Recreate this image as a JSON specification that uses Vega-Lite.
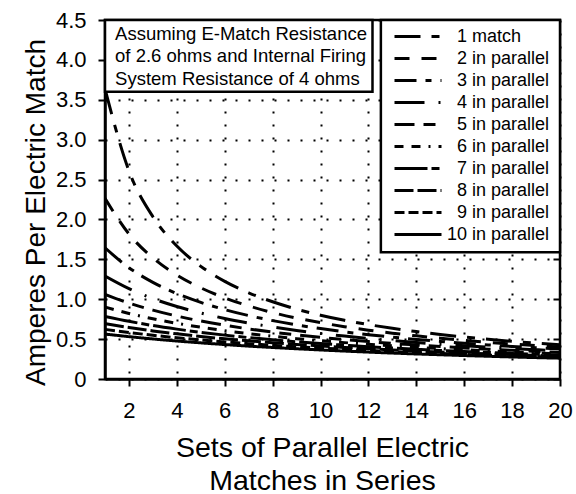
{
  "$schema": "https://vega.github.io/schema/vega-lite/v6.json",
  "autosize": {"type": "none"},
  "width": 455,
  "height": 359,
  "padding": {"left": 105, "top": 20, "right": 16, "bottom": 115},
  "background": "white",
  "config": {
    "font": "Liberation Sans",
    "view": {"stroke": "black", "strokeWidth": 2.5},
    "axis": {
      "labelColor": "black", "titleColor": "black", "domainColor": "black", "tickColor": "black",
      "titleFontWeight": "normal", "labelFont": "Liberation Sans", "titleFont": "Liberation Sans"
    }
  },
  "datasets": {
    "curves": [
      {"s":1,"n":"1 match","a":3.636},{"s":2,"n":"1 match","a":2.609},{"s":3,"n":"1 match","a":2.034},{"s":4,"n":"1 match","a":1.667},{"s":5,"n":"1 match","a":1.412},{"s":6,"n":"1 match","a":1.224},{"s":7,"n":"1 match","a":1.081},{"s":8,"n":"1 match","a":0.968},{"s":9,"n":"1 match","a":0.876},{"s":10,"n":"1 match","a":0.8},{"s":11,"n":"1 match","a":0.736},{"s":12,"n":"1 match","a":0.682},{"s":13,"n":"1 match","a":0.635},{"s":14,"n":"1 match","a":0.594},{"s":15,"n":"1 match","a":0.558},{"s":16,"n":"1 match","a":0.526},{"s":17,"n":"1 match","a":0.498},{"s":18,"n":"1 match","a":0.472},{"s":19,"n":"1 match","a":0.449},{"s":20,"n":"1 match","a":0.429},
      {"s":1,"n":"2 in parallel","a":2.264},{"s":2,"n":"2 in parallel","a":1.818},{"s":3,"n":"2 in parallel","a":1.519},{"s":4,"n":"2 in parallel","a":1.304},{"s":5,"n":"2 in parallel","a":1.143},{"s":6,"n":"2 in parallel","a":1.017},{"s":7,"n":"2 in parallel","a":0.916},{"s":8,"n":"2 in parallel","a":0.833},{"s":9,"n":"2 in parallel","a":0.764},{"s":10,"n":"2 in parallel","a":0.706},{"s":11,"n":"2 in parallel","a":0.656},{"s":12,"n":"2 in parallel","a":0.612},{"s":13,"n":"2 in parallel","a":0.574},{"s":14,"n":"2 in parallel","a":0.541},{"s":15,"n":"2 in parallel","a":0.511},{"s":16,"n":"2 in parallel","a":0.484},{"s":17,"n":"2 in parallel","a":0.46},{"s":18,"n":"2 in parallel","a":0.438},{"s":19,"n":"2 in parallel","a":0.418},{"s":20,"n":"2 in parallel","a":0.4},
      {"s":1,"n":"3 in parallel","a":1.644},{"s":2,"n":"3 in parallel","a":1.395},{"s":3,"n":"3 in parallel","a":1.212},{"s":4,"n":"3 in parallel","a":1.071},{"s":5,"n":"3 in parallel","a":0.96},{"s":6,"n":"3 in parallel","a":0.87},{"s":7,"n":"3 in parallel","a":0.795},{"s":8,"n":"3 in parallel","a":0.732},{"s":9,"n":"3 in parallel","a":0.678},{"s":10,"n":"3 in parallel","a":0.632},{"s":11,"n":"3 in parallel","a":0.591},{"s":12,"n":"3 in parallel","a":0.556},{"s":13,"n":"3 in parallel","a":0.524},{"s":14,"n":"3 in parallel","a":0.496},{"s":15,"n":"3 in parallel","a":0.471},{"s":16,"n":"3 in parallel","a":0.448},{"s":17,"n":"3 in parallel","a":0.427},{"s":18,"n":"3 in parallel","a":0.408},{"s":19,"n":"3 in parallel","a":0.391},{"s":20,"n":"3 in parallel","a":0.375},
      {"s":1,"n":"4 in parallel","a":1.29},{"s":2,"n":"4 in parallel","a":1.132},{"s":3,"n":"4 in parallel","a":1.008},{"s":4,"n":"4 in parallel","a":0.909},{"s":5,"n":"4 in parallel","a":0.828},{"s":6,"n":"4 in parallel","a":0.759},{"s":7,"n":"4 in parallel","a":0.702},{"s":8,"n":"4 in parallel","a":0.652},{"s":9,"n":"4 in parallel","a":0.609},{"s":10,"n":"4 in parallel","a":0.571},{"s":11,"n":"4 in parallel","a":0.538},{"s":12,"n":"4 in parallel","a":0.508},{"s":13,"n":"4 in parallel","a":0.482},{"s":14,"n":"4 in parallel","a":0.458},{"s":15,"n":"4 in parallel","a":0.436},{"s":16,"n":"4 in parallel","a":0.417},{"s":17,"n":"4 in parallel","a":0.399},{"s":18,"n":"4 in parallel","a":0.382},{"s":19,"n":"4 in parallel","a":0.367},{"s":20,"n":"4 in parallel","a":0.353},
      {"s":1,"n":"5 in parallel","a":1.062},{"s":2,"n":"5 in parallel","a":0.952},{"s":3,"n":"5 in parallel","a":0.863},{"s":4,"n":"5 in parallel","a":0.789},{"s":5,"n":"5 in parallel","a":0.727},{"s":6,"n":"5 in parallel","a":0.674},{"s":7,"n":"5 in parallel","a":0.628},{"s":8,"n":"5 in parallel","a":0.588},{"s":9,"n":"5 in parallel","a":0.553},{"s":10,"n":"5 in parallel","a":0.522},{"s":11,"n":"5 in parallel","a":0.494},{"s":12,"n":"5 in parallel","a":0.469},{"s":13,"n":"5 in parallel","a":0.446},{"s":14,"n":"5 in parallel","a":0.426},{"s":15,"n":"5 in parallel","a":0.407},{"s":16,"n":"5 in parallel","a":0.39},{"s":17,"n":"5 in parallel","a":0.374},{"s":18,"n":"5 in parallel","a":0.359},{"s":19,"n":"5 in parallel","a":0.346},{"s":20,"n":"5 in parallel","a":0.333},
      {"s":1,"n":"6 in parallel","a":0.902},{"s":2,"n":"6 in parallel","a":0.822},{"s":3,"n":"6 in parallel","a":0.755},{"s":4,"n":"6 in parallel","a":0.698},{"s":5,"n":"6 in parallel","a":0.649},{"s":6,"n":"6 in parallel","a":0.606},{"s":7,"n":"6 in parallel","a":0.569},{"s":8,"n":"6 in parallel","a":0.536},{"s":9,"n":"6 in parallel","a":0.506},{"s":10,"n":"6 in parallel","a":0.48},{"s":11,"n":"6 in parallel","a":0.456},{"s":12,"n":"6 in parallel","a":0.435},{"s":13,"n":"6 in parallel","a":0.415},{"s":14,"n":"6 in parallel","a":0.397},{"s":15,"n":"6 in parallel","a":0.381},{"s":16,"n":"6 in parallel","a":0.366},{"s":17,"n":"6 in parallel","a":0.352},{"s":18,"n":"6 in parallel","a":0.339},{"s":19,"n":"6 in parallel","a":0.327},{"s":20,"n":"6 in parallel","a":0.316},
      {"s":1,"n":"7 in parallel","a":0.784},{"s":2,"n":"7 in parallel","a":0.723},{"s":3,"n":"7 in parallel","a":0.67},{"s":4,"n":"7 in parallel","a":0.625},{"s":5,"n":"7 in parallel","a":0.585},{"s":6,"n":"7 in parallel","a":0.55},{"s":7,"n":"7 in parallel","a":0.519},{"s":8,"n":"7 in parallel","a":0.492},{"s":9,"n":"7 in parallel","a":0.467},{"s":10,"n":"7 in parallel","a":0.444},{"s":11,"n":"7 in parallel","a":0.424},{"s":12,"n":"7 in parallel","a":0.405},{"s":13,"n":"7 in parallel","a":0.388},{"s":14,"n":"7 in parallel","a":0.373},{"s":15,"n":"7 in parallel","a":0.358},{"s":16,"n":"7 in parallel","a":0.345},{"s":17,"n":"7 in parallel","a":0.332},{"s":18,"n":"7 in parallel","a":0.321},{"s":19,"n":"7 in parallel","a":0.31},{"s":20,"n":"7 in parallel","a":0.3},
      {"s":1,"n":"8 in parallel","a":0.694},{"s":2,"n":"8 in parallel","a":0.645},{"s":3,"n":"8 in parallel","a":0.603},{"s":4,"n":"8 in parallel","a":0.566},{"s":5,"n":"8 in parallel","a":0.533},{"s":6,"n":"8 in parallel","a":0.504},{"s":7,"n":"8 in parallel","a":0.478},{"s":8,"n":"8 in parallel","a":0.455},{"s":9,"n":"8 in parallel","a":0.433},{"s":10,"n":"8 in parallel","a":0.414},{"s":11,"n":"8 in parallel","a":0.396},{"s":12,"n":"8 in parallel","a":0.38},{"s":13,"n":"8 in parallel","a":0.365},{"s":14,"n":"8 in parallel","a":0.351},{"s":15,"n":"8 in parallel","a":0.338},{"s":16,"n":"8 in parallel","a":0.326},{"s":17,"n":"8 in parallel","a":0.315},{"s":18,"n":"8 in parallel","a":0.305},{"s":19,"n":"8 in parallel","a":0.295},{"s":20,"n":"8 in parallel","a":0.286},
      {"s":1,"n":"9 in parallel","a":0.622},{"s":2,"n":"9 in parallel","a":0.583},{"s":3,"n":"9 in parallel","a":0.548},{"s":4,"n":"9 in parallel","a":0.517},{"s":5,"n":"9 in parallel","a":0.49},{"s":6,"n":"9 in parallel","a":0.465},{"s":7,"n":"9 in parallel","a":0.443},{"s":8,"n":"9 in parallel","a":0.423},{"s":9,"n":"9 in parallel","a":0.404},{"s":10,"n":"9 in parallel","a":0.387},{"s":11,"n":"9 in parallel","a":0.372},{"s":12,"n":"9 in parallel","a":0.357},{"s":13,"n":"9 in parallel","a":0.344},{"s":14,"n":"9 in parallel","a":0.331},{"s":15,"n":"9 in parallel","a":0.32},{"s":16,"n":"9 in parallel","a":0.309},{"s":17,"n":"9 in parallel","a":0.299},{"s":18,"n":"9 in parallel","a":0.29},{"s":19,"n":"9 in parallel","a":0.281},{"s":20,"n":"9 in parallel","a":0.273},
      {"s":1,"n":"10 in parallel","a":0.563},{"s":2,"n":"10 in parallel","a":0.531},{"s":3,"n":"10 in parallel","a":0.502},{"s":4,"n":"10 in parallel","a":0.476},{"s":5,"n":"10 in parallel","a":0.453},{"s":6,"n":"10 in parallel","a":0.432},{"s":7,"n":"10 in parallel","a":0.412},{"s":8,"n":"10 in parallel","a":0.395},{"s":9,"n":"10 in parallel","a":0.379},{"s":10,"n":"10 in parallel","a":0.364},{"s":11,"n":"10 in parallel","a":0.35},{"s":12,"n":"10 in parallel","a":0.337},{"s":13,"n":"10 in parallel","a":0.325},{"s":14,"n":"10 in parallel","a":0.314},{"s":15,"n":"10 in parallel","a":0.304},{"s":16,"n":"10 in parallel","a":0.294},{"s":17,"n":"10 in parallel","a":0.285},{"s":18,"n":"10 in parallel","a":0.276},{"s":19,"n":"10 in parallel","a":0.268},{"s":20,"n":"10 in parallel","a":0.261}
    ],
    "note": [{"label": "assumptions"}]
  },
  "layer": [
    {
      "data": {"name": "curves"},
      "mark": {"type": "line", "color": "black", "strokeWidth": 3, "interpolate": "monotone", "clip": true},
      "encoding": {
        "x": {
          "field": "s", "type": "quantitative",
          "scale": {"domain": [1, 20], "nice": false, "zero": false},
          "axis": {
            "title": ["Sets of Parallel Electric", "Matches in Series"],
            "titleFontSize": 28.5, "titleLineHeight": 33, "titlePadding": 12, "titleX": 217, "titleAlign": "center",
            "values": [2, 4, 6, 8, 10, 12, 14, 16, 18, 20],
            "labelFontSize": 22, "labelPadding": 14, "labelFlush": false,
            "tickSize": 7, "tickWidth": 2, "domainWidth": 2.5,
            "grid": true, "gridColor": "black", "gridDash": [2, 11], "gridWidth": 2, "gridOpacity": 1
          }
        },
        "y": {
          "field": "a", "type": "quantitative",
          "scale": {"domain": [0, 4.5], "nice": false},
          "axis": {
            "title": "Amperes Per Electric Match",
            "titleFontSize": 28, "titlePadding": 5, "titleY": 192,
            "values": [0, 0.5, 1, 1.5, 2, 2.5, 3, 3.5, 4, 4.5],
            "labelExpr": "datum.value == 0 ? '0' : format(datum.value, '.1f')",
            "labelFontSize": 22, "labelPadding": 12, "labelFlush": false,
            "tickSize": 7, "tickWidth": 2, "domainWidth": 2.5,
            "grid": true, "gridColor": "black", "gridDash": [2, 11], "gridWidth": 2, "gridOpacity": 1
          }
        },
        "strokeDash": {
          "field": "n", "type": "nominal",
          "scale": {
            "domain": ["1 match", "2 in parallel", "3 in parallel", "4 in parallel", "5 in parallel", "6 in parallel", "7 in parallel", "8 in parallel", "9 in parallel", "10 in parallel"],
            "range": [[26, 11, 8, 11], [15, 12], [22, 9, 6, 9], [30, 14, 2, 14], [20, 9, 12, 9], [9, 8, 9, 8, 2, 8], [33, 4, 8, 4], [19, 4], [10, 4], [1, 0]]
          },
          "legend": {
            "title": null, "orient": "none", "legendX": 288, "legendY": 5.5,
            "symbolType": "stroke", "symbolSize": 2209, "symbolStrokeWidth": 3, "symbolStrokeColor": "black",
            "labelFontSize": 18, "labelFont": "Liberation Sans", "labelColor": "black", "labelLimit": 250,
            "labelOffset": 4, "clipHeight": 22,
            "labelExpr": "datum.label == '10 in parallel' ? datum.label : '\u200b\u00a0\u00a0' + datum.label",
            "padding": 0, "rowPadding": 0
          }
        }
      }
    },
    {
      "data": {"name": "note"},
      "mark": {"type": "rect", "fill": "white", "stroke": "black", "strokeWidth": 2.5},
      "encoding": {
        "x": {"datum": 1, "type": "quantitative"},
        "x2": {"datum": 12.17},
        "y": {
          "datum": 3.6, "type": "quantitative",
          "axis": {"orient": "right", "title": null, "labels": false, "domain": false, "grid": false,
                   "values": [0, 0.5, 1, 1.5, 2, 2.5, 3, 3.5, 4], "tickSize": -7, "tickWidth": 2, "tickColor": "black"}
        },
        "y2": {"datum": 4.5}
      }
    },
    {
      "data": {"name": "note"},
      "mark": {"type": "rect", "fill": "white", "stroke": "black", "strokeWidth": 2.5},
      "encoding": {
        "x": {"datum": 12.52, "type": "quantitative"},
        "x2": {"datum": 20},
        "y": {"datum": 1.59, "type": "quantitative", "axis": null},
        "y2": {"datum": 4.5}
      }
    },
    {
      "data": {"name": "note"},
      "mark": {
        "type": "text",
        "text": ["Assuming E-Match Resistance", "of 2.6 ohms and Internal Firing", "System Resistance of 4 ohms"],
        "align": "left", "baseline": "middle", "fontSize": 18.5, "lineHeight": 22.5,
        "font": "Liberation Sans", "color": "black"
      },
      "encoding": {
        "x": {"datum": 1.42, "type": "quantitative"},
        "y": {"datum": 4.33, "type": "quantitative", "axis": null}
      }
    }
  ],
  "resolve": {"axis": {"y": "independent"}}
}
